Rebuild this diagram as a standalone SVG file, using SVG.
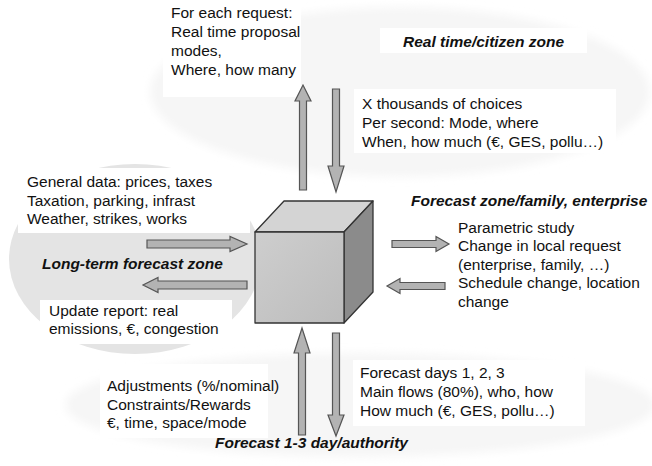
<svg xmlns="http://www.w3.org/2000/svg" width="652" height="466" viewBox="0 0 652 466">
  <defs>
    <linearGradient id="frontGrad" x1="0" y1="0" x2="1" y2="1">
      <stop offset="0" stop-color="#cecece"/>
      <stop offset="1" stop-color="#bcbcbc"/>
    </linearGradient>
    <filter id="soft" x="-10%" y="-20%" width="120%" height="140%">
      <feGaussianBlur stdDeviation="4"/>
    </filter>
    <style>
      .txt { font-family: "Liberation Sans", Arial, sans-serif; font-size: 15.5px; fill: #111; }
      .zone { font-family: "Liberation Sans", Arial, sans-serif; font-size: 15.5px; font-weight: bold; font-style: italic; fill: #111; }
      .box { fill: #ffffff; }
      .zonebg { fill: #f6f6f6; }
      .arrow { fill: #b3b3b3; stroke: #555555; stroke-width: 1.2; stroke-linejoin: miter; }
      .edge { stroke: #333333; stroke-width: 1.3; stroke-linejoin: round; }
    </style>
  </defs>

  <rect width="652" height="466" fill="#ffffff"/>

  <!-- faint zone backgrounds -->
  <g id="zones">
    <ellipse class="zonebg" cx="400" cy="92" rx="250" ry="85" filter="url(#soft)"/>
    <ellipse class="zonebg" cx="360" cy="405" rx="295" ry="52" filter="url(#soft)"/>
    <ellipse cx="135" cy="259" rx="126" ry="95" fill="#e4e4e4"/>
  </g>

  <!-- central cube -->
  <g id="cube">
    <polygon class="edge" points="255,232 284,201 373,201 344,232" fill="#d4d4d4"/>
    <polygon class="edge" points="344,232 373,201 373,292 344,323" fill="#8b8b8b"/>
    <rect class="edge" x="255" y="232" width="89" height="91" fill="url(#frontGrad)"/>
  </g>

  <!-- top: real time / citizen zone -->
  <g id="request-top">
    <rect class="box" x="163" y="0" width="138" height="97"/>
    <text class="txt" x="171" y="18">For each request:</text>
    <text class="txt" x="171" y="37">Real time proposal</text>
    <text class="txt" x="171" y="56">modes,</text>
    <text class="txt" x="171" y="75">Where, how many</text>
  </g>
  <g id="zone-realtime">
    <rect class="box" x="380" y="28" width="207" height="25"/>
    <text class="zone" x="403" y="47">Real time/citizen zone</text>
  </g>
  <g id="choices-top">
    <rect class="box" x="354" y="89" width="262" height="64"/>
    <text class="txt" x="362" y="109">X thousands of choices</text>
    <text class="txt" x="362" y="128">Per second: Mode, where</text>
    <text class="txt" x="362" y="147">When, how much (€, GES, pollu…)</text>
  </g>

  <!-- left: long-term forecast zone -->
  <g id="general-data">
    <rect class="box" x="18" y="168" width="232" height="65"/>
    <text class="txt" x="27" y="187">General data: prices, taxes</text>
    <text class="txt" x="27" y="206">Taxation, parking, infrast</text>
    <text class="txt" x="27" y="224">Weather, strikes, works</text>
  </g>
  <g id="zone-longterm">
    <text class="zone" x="42" y="269">Long-term forecast zone</text>
  </g>
  <g id="update-report">
    <rect class="box" x="40" y="300" width="192" height="44"/>
    <text class="txt" x="49" y="316">Update report: real</text>
    <text class="txt" x="49" y="334">emissions, €, congestion</text>
  </g>

  <!-- right: forecast zone/family, enterprise -->
  <g id="zone-family">
    <text class="zone" x="411" y="206">Forecast zone/family, enterprise</text>
  </g>
  <g id="parametric">
    <text class="txt" x="458" y="233">Parametric study</text>
    <text class="txt" x="458" y="251">Change in local request</text>
    <text class="txt" x="458" y="270">(enterprise, family, …)</text>
    <text class="txt" x="458" y="288">Schedule change, location</text>
    <text class="txt" x="458" y="307">change</text>
  </g>

  <!-- bottom: forecast 1-3 day / authority -->
  <g id="adjustments">
    <rect class="box" x="100" y="364" width="168" height="74"/>
    <text class="txt" x="107" y="391">Adjustments (%/nominal)</text>
    <text class="txt" x="107" y="410">Constraints/Rewards</text>
    <text class="txt" x="107" y="428">€, time, space/mode</text>
  </g>
  <g id="forecast-days">
    <rect class="box" x="353" y="360" width="232" height="66"/>
    <text class="txt" x="360" y="378">Forecast days 1, 2, 3</text>
    <text class="txt" x="360" y="397">Main flows (80%), who, how</text>
    <text class="txt" x="360" y="416">How much (€, GES, pollu…)</text>
  </g>
  <g id="zone-authority">
    <text class="zone" x="215" y="448">Forecast 1-3 day/authority</text>
  </g>

  <!-- block arrows to and from the cube -->
  <g id="connectors">
    <polygon class="arrow" points="299.5,190 299.5,101 295,101 303,85 311,101 306.5,101 306.5,190"/>
    <polygon class="arrow" points="332.5,89 339.5,89 339.5,166 344,166 336,192 328,166 332.5,166"/>
    <polygon class="arrow" points="147,240 230,240 230,236.5 247,244 230,251.5 230,248 147,248"/>
    <polygon class="arrow" points="247,281 158,281 158,277.5 143,285 158,292.5 158,289 247,289"/>
    <polygon class="arrow" points="392,240.5 436,240.5 436,236.5 449,244 436,251.5 436,247.5 392,247.5"/>
    <polygon class="arrow" points="445,282.5 400,282.5 400,278.5 387,286 400,293.5 400,289.5 445,289.5"/>
    <polygon class="arrow" points="298.5,435 298.5,353 294,353 302,328 310,353 305.5,353 305.5,435"/>
    <polygon class="arrow" points="332.5,333 339.5,333 339.5,415 344,415 336,436 328,415 332.5,415"/>
  </g>
</svg>
